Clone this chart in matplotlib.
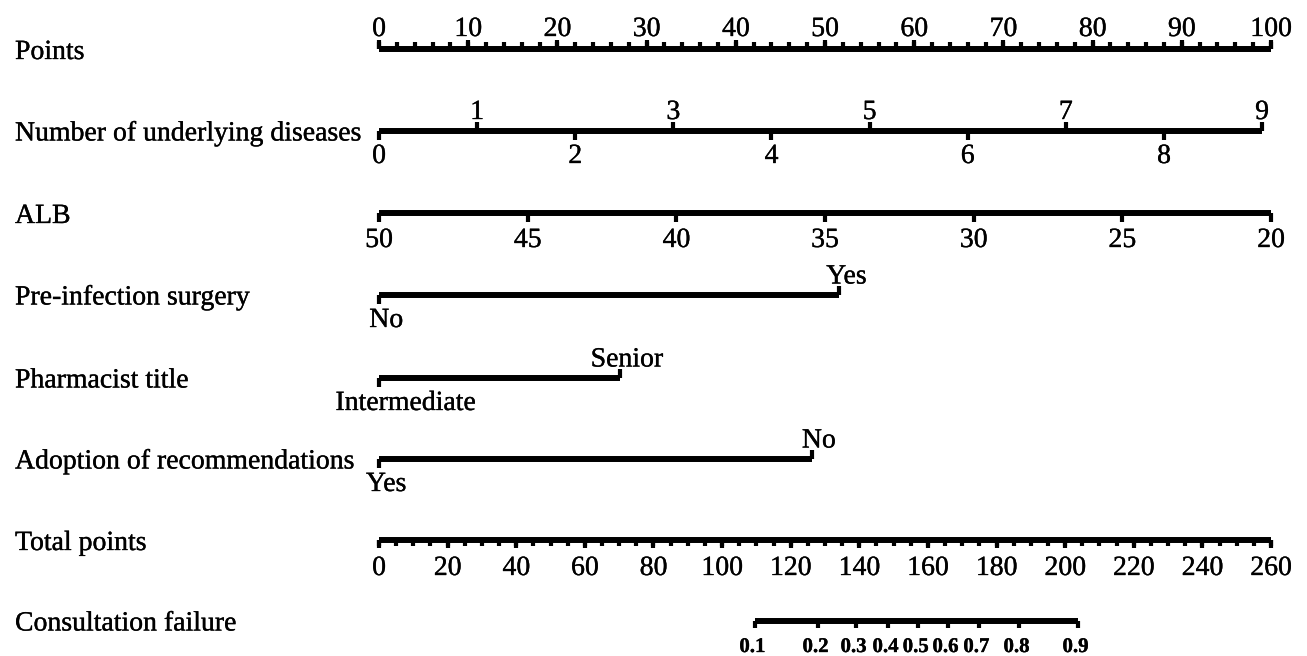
import numpy as np
import matplotlib
matplotlib.use("Agg")
import matplotlib.pyplot as plt
import matplotlib.patheffects as pe
from matplotlib.transforms import blended_transform_factory

plt.rcParams["font.family"] = ["Liberation Serif", "DejaVu Serif"]

# ---- data ----
row_names = [
    "Points",
    "Number of underlying diseases",
    "ALB",
    "Pre-infection surgery",
    "Pharmacist title",
    "Adoption of recommendations",
    "Total points",
    "Consultation failure",
]

points_ticks = list(range(0, 101, 10))
points_minor = list(range(0, 101, 2))

disease_values = list(range(0, 10))
disease_max_points = 99.0  # points given to 9 diseases

alb_values = [50, 45, 40, 35, 30, 25, 20]
alb_range = (50, 20)  # 50 -> 0 points, 20 -> 100 points

surgery_levels = ["No", "Yes"]
surgery_points = [0, 51.6]

title_levels = ["Intermediate", "Senior"]
title_points = [0, 27.0]

adoption_levels = ["Yes", "No"]
adoption_points = [0, 48.5]

total_ticks = list(range(0, 261, 20))
total_minor = list(range(0, 261, 5))
total_max = 260

risk_labels = ["0.1", "0.2", "0.3", "0.4", "0.5", "0.6", "0.7", "0.8", "0.9"]
risk_total_points = [109.6, 128.0, 139.1, 148.4, 157.2, 165.9, 174.9, 186.6, 203.8]

# ---- layout ----
W, H = 1307, 656
x0_px, x100_px = 379, 1271
row_y = [49, 130.5, 213, 294.5, 377.5, 458.5, 540, 620.5]

LW = 4.3
TW = 3.0
FS = 20
heavy = [pe.withStroke(linewidth=0.25, foreground="black")]


def to_pts_total(tp):
    return np.asarray(tp, dtype=float) * 100.0 / total_max


def draw_line(ax, x_start, x_end, y):
    ax.plot([x_start, x_end], [y, y], color="black", lw=LW, solid_capstyle="butt")


def draw_ticks(ax, xs, y, length):
    for x in xs:
        ax.plot([x, x], [y, y + length], color="black", lw=TW, solid_capstyle="butt")


def label(ax, x, y, s, **kw):
    kw.setdefault("fontsize", FS)
    ax.text(x, y, s, ha="center", va="baseline", path_effects=heavy, **kw)


fig = plt.figure(figsize=(W / 100, H / 100), dpi=100)
ax = fig.add_axes([0, 0, 1, 1])
scale = 100.0 / (x100_px - x0_px)
ax.set_xlim(-x0_px * scale, (W - x0_px) * scale)
ax.set_ylim(H, 0)
ax.axis("off")

lab_tr = blended_transform_factory(ax.transAxes, ax.transData)
for name, y in zip(row_names, row_y):
    ax.text(15 / W, y + 10, name, transform=lab_tr, fontsize=FS,
            va="baseline", ha="left", path_effects=heavy)

# Points
y = row_y[0]
draw_line(ax, 0, 100, y)
draw_ticks(ax, points_minor, y, -7)
draw_ticks(ax, points_ticks, y, -9)
for t in points_ticks:
    label(ax, t, 36, str(t))

# Number of underlying diseases
y = row_y[1]
d_pts = np.array(disease_values) * disease_max_points / disease_values[-1]
draw_line(ax, d_pts[0], d_pts[-1], y)
for v, p in zip(disease_values, d_pts):
    if v % 2:
        draw_ticks(ax, [p], y, -9)
        label(ax, p, 119, str(v))
    else:
        draw_ticks(ax, [p], y, 9)
        label(ax, p, 163, str(v))

# ALB
y = row_y[2]
a_pts = (alb_range[0] - np.array(alb_values)) * 100.0 / (alb_range[0] - alb_range[1])
draw_line(ax, a_pts[0], a_pts[-1], y)
draw_ticks(ax, a_pts, y, 9)
for v, p in zip(alb_values, a_pts):
    label(ax, p, 247, str(v))

# categorical rows (last value: small label nudge to the right, in points)
cat_rows = [
    (surgery_levels, surgery_points, row_y[3], 0.8),
    (title_levels, title_points, row_y[4], 3.0),
    (adoption_levels, adoption_points, row_y[5], 0.8),
]
for levels, pts, y, nudge in cat_rows:
    draw_line(ax, pts[0], pts[1], y)
    draw_ticks(ax, [pts[0]], y, 9)
    draw_ticks(ax, [pts[1]], y, -9)
    label(ax, pts[0] + nudge, y + 32.5, levels[0])
    label(ax, pts[1] + 0.8, y - 11, levels[1])

# Total points
y = row_y[6]
draw_line(ax, 0, 100, y)
draw_ticks(ax, to_pts_total(total_minor), y, 6)
draw_ticks(ax, to_pts_total(total_ticks), y, 8)
for t, p in zip(total_ticks, to_pts_total(total_ticks)):
    label(ax, p, 575, str(t))

# Consultation failure
y = row_y[7]
r_pts = to_pts_total(risk_total_points)
draw_line(ax, r_pts[0], r_pts[-1], y)
draw_ticks(ax, r_pts, y, 7.5)
for lab, p in zip(risk_labels, r_pts):
    label(ax, p - 0.3, 652, lab, fontsize=15, fontweight="bold")

fig.savefig("out.png", dpi=100, facecolor="white")
